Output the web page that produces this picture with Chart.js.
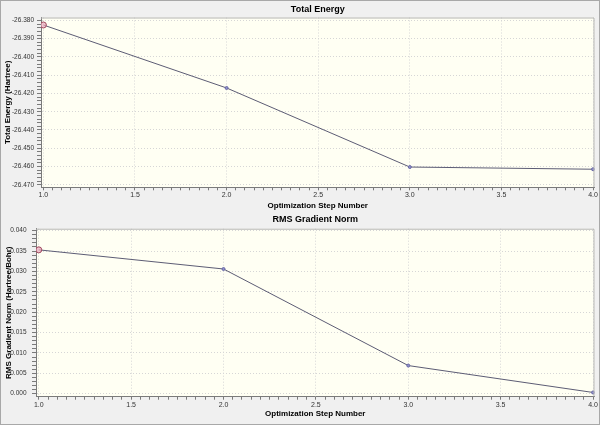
<!DOCTYPE html>
<html><head><meta charset="utf-8">
<script src="https://cdn.jsdelivr.net/npm/chart.js@4"></script>
<style>
html,body{margin:0;padding:0;background:#f0f0f0;}
#wrap{position:relative;width:600px;height:425px;overflow:hidden;background:#f0f0f0;}
.pane{position:absolute;left:0;width:600px;}
#frame{position:absolute;left:0;top:0;width:600px;height:425px;box-sizing:border-box;border:1px solid #a8a8a8;pointer-events:none;}
</style></head><body>
<div id="wrap">
<div class="pane" style="top:0;height:212px"><canvas id="c1"></canvas></div>
<div class="pane" style="top:212px;height:213px"><canvas id="c2"></canvas></div>
<div id="frame"></div>
</div>
<script>
// ---- data ----
const steps = [1, 2, 3, 4];
const energy = [-26.3825, -26.4170, -26.4603, -26.4615];
const rms = [0.0353, 0.0306, 0.0069, 0.0003];
const xMajor = [1.0, 1.5, 2.0, 2.5, 3.0, 3.5, 4.0];
const energyMajor = [-26.38, -26.39, -26.40, -26.41, -26.42, -26.43, -26.44, -26.45, -26.46, -26.47];
const rmsMajor = [0.000, 0.005, 0.010, 0.015, 0.020, 0.025, 0.030, 0.035, 0.040];

const FONT = "'Liberation Sans', Arial, sans-serif";
const TICKFONT = "'Liberation Sans Narrow', 'Arial Narrow', 'Liberation Sans', Arial, sans-serif";

const frame = {
  id: 'frame',
  beforeDraw(chart) {
    const {ctx, chartArea: a} = chart;
    ctx.save();
    ctx.fillStyle = '#fffff3';
    ctx.fillRect(a.left, a.top, a.right - a.left, a.bottom - a.top);
    ctx.restore();
  },
  afterDraw(chart) {
    const {ctx, chartArea: a} = chart;
    ctx.save();
    ctx.strokeStyle = '#b4b4b4';
    ctx.lineWidth = 1;
    ctx.beginPath();
    ctx.moveTo(a.left, a.top + 0.5);
    ctx.lineTo(a.right - 0.5, a.top + 0.5);
    ctx.lineTo(a.right - 0.5, a.bottom);
    ctx.stroke();
    ctx.restore();
  }
};

function near(v, list) { return list.some(m => Math.abs(v - m) < 1e-7); }
function onStep(v, s) { const r = v / s; return Math.abs(r - Math.round(r)) < 1e-5; }

function makeChart(id, o) {
  return new Chart(document.getElementById(id), {
    type: 'line',
    data: {
      datasets: [{
        data: steps.map((s, i) => ({x: s, y: o.values[i]})),
        borderColor: '#5c5c74',
        borderWidth: 1,
        tension: 0,
        fill: false,
        pointRadius: c => c.dataIndex === 0 ? 3 : 1.5,
        pointBorderWidth: 1,
        pointBorderColor: c => c.dataIndex === 0 ? '#a04a60' : '#6a6aa8',
        pointBackgroundColor: c => c.dataIndex === 0 ? 'rgba(235,170,190,0.7)' : '#9090c8'
      }]
    },
    plugins: [frame],
    options: {
      responsive: true,
      maintainAspectRatio: false,
      animation: false,
      devicePixelRatio: 1,
      layout: {padding: {left: 0, right: 5.5, top: 0, bottom: 0}},
      plugins: {
        legend: {display: false},
        tooltip: {enabled: false},
        title: {
          display: true, text: o.title, fullSize: false,
          color: '#000', font: {family: FONT, size: 9, weight: 'bold'},
          padding: o.titlePad
        }
      },
      scales: {
        x: {
          type: 'linear', min: o.xMin, max: o.xMax,
          afterFit: s => { s.height = o.xH; },
          afterBuildTicks: s => { s.ticks = s.ticks.filter(t => onStep(t.value, 0.05)); },
          ticks: {
            stepSize: 0.05, autoSkip: false, maxRotation: 0, padding: 1, includeBounds: false,
            color: '#333', font: {family: TICKFONT, size: 7},
            callback: v => near(v, xMajor) ? v.toFixed(1) : ''
          },
          grid: {
            color: c => (c.tick && near(c.tick.value, xMajor)) ? '#d6d6d6' : 'rgba(0,0,0,0)',
            tickColor: '#7a7a7a', tickLength: 3, tickBorderDash: [], drawTicks: true
          },
          border: {display: true, color: '#7a7a7a', dash: [1, 2]},
          title: {
            display: true, text: 'Optimization Step Number', color: '#000',
            font: {family: FONT, size: 8, weight: 'bold'},
            padding: {top: 0, bottom: o.xTitlePad}
          }
        },
        y: {
          type: 'linear', min: o.yMin, max: o.yMax,
          afterFit: s => { s.width = o.yW; },
          afterBuildTicks: s => { s.ticks = s.ticks.filter(t => onStep(t.value, o.yMinor)); },
          ticks: {
            stepSize: o.yMinor, autoSkip: false, padding: o.yPad, includeBounds: false,
            color: '#333', font: {family: TICKFONT, size: 6.5},
            callback: v => near(v, o.yMajor) ? v.toFixed(3) : ''
          },
          grid: {
            color: c => (c.tick && near(c.tick.value, o.yMajor)) ? '#d6d6d6' : 'rgba(0,0,0,0)',
            tickColor: '#7a7a7a', tickLength: 4, tickBorderDash: []
          },
          border: {display: true, color: '#7a7a7a', dash: [1, 2]},
          title: {
            display: true, text: o.yTitle, color: '#000',
            font: {family: FONT, size: 8, weight: 'bold'},
            padding: {top: o.yTitlePad, bottom: 0}
          }
        }
      }
    }
  });
}

makeChart('c1', {
  values: energy, title: 'Total Energy', yTitle: 'Total Energy (Hartree)',
  yMajor: energyMajor, yMinor: 0.002, yMin: -26.4714, yMax: -26.3784,
  xMin: 0.987, xMax: 4.008, yW: 41, xH: 24.7,
  titlePad: {top: 4.5, bottom: 2.2}, xTitlePad: 1.5, yTitlePad: 3.2, yPad: 3
});
makeChart('c2', {
  values: rms, title: 'RMS Gradient Norm', yTitle: 'RMS Gradient Norm (Hartree/Bohr)',
  yMajor: rmsMajor, yMinor: 0.001, yMin: -0.00074, yMax: 0.04049,
  xMin: 0.985, xMax: 4.008, yW: 36, xH: 28.3,
  titlePad: {top: 2.5, bottom: 3.4}, xTitlePad: 6.2, yTitlePad: 4, yPad: 5.5
});
</script>
</body></html>
